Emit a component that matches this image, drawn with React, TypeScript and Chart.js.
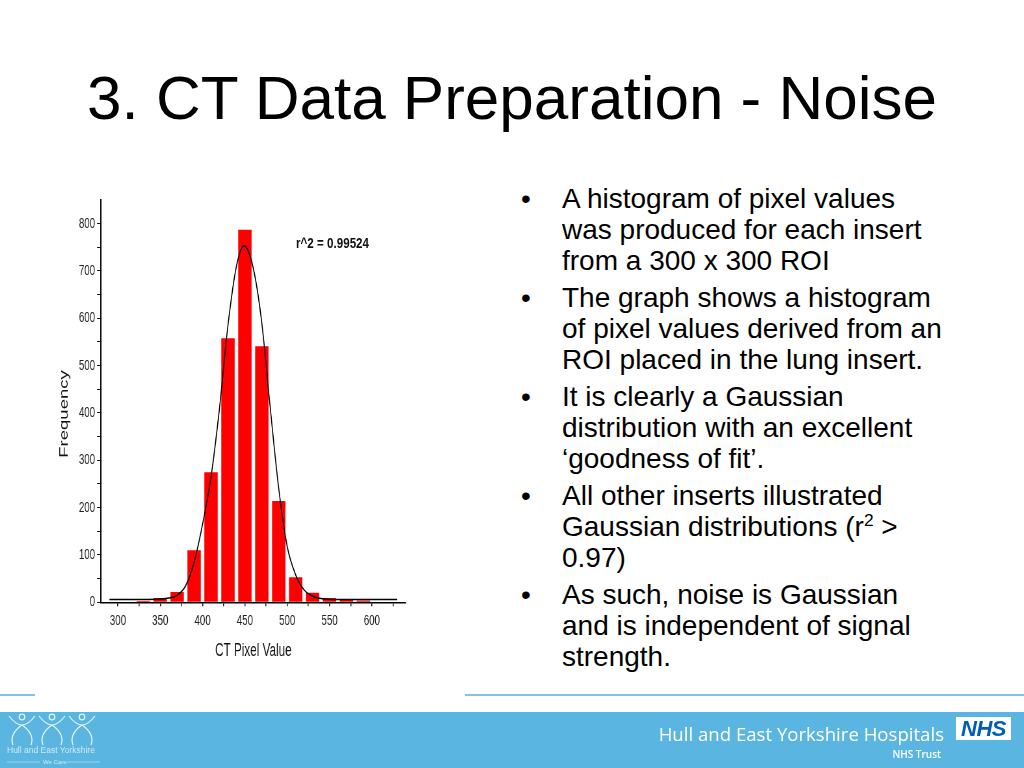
import React, { useEffect, useRef } from 'react';
import { Chart, registerables } from 'chart.js';

Chart.register(...registerables);

// Histogram bins (centre of each 20-wide bin) and their counts
const binCenters = [330, 350, 370, 390, 410, 430, 450, 470, 490, 510, 530, 550, 570, 590];
const binCounts = [3, 9, 22, 110, 275, 558, 787, 541, 214, 53, 20, 9, 6, 4];

// Fitted Gaussian curve
const fitX = [290, 330, 350, 360, 370, 380, 390, 400, 410, 420, 430, 440, 449, 460, 470, 480, 490, 500, 510, 520, 530, 540, 560, 600, 630];
const fitY = [6, 6, 7, 9, 15, 35, 85, 165, 265, 410, 585, 710, 753, 705, 590, 410, 240, 118, 58, 26, 13, 8, 6, 6, 6];

// Tick labels
const xTickLabels = [300, 350, 400, 450, 500, 550, 600];
const yTickLabels = [0, 100, 200, 300, 400, 500, 600, 700, 800];

const FONT = "'Liberation Sans', Arial, Helvetica, sans-serif";
const SQUEEZE = 0.65;

function ChartBox() {
  const canvasRef = useRef<HTMLCanvasElement>(null);
  useEffect(() => {
    const canvas = canvasRef.current;
    if (!canvas) return;
    const chart = new Chart(canvas, {
      type: 'bar',
      data: {
        datasets: [
          {
            type: 'line',
            label: 'Gaussian fit',
            data: fitX.map((x, i) => ({ x, y: fitY[i] })),
            borderColor: '#000',
            borderWidth: 1.6,
            pointRadius: 0,
            cubicInterpolationMode: 'monotone',
            fill: false,
            order: 0,
          } as any,
          {
            type: 'bar',
            label: 'Frequency',
            data: binCenters.map((x, i) => ({ x, y: binCounts[i] })),
            backgroundColor: '#ff0000',
            borderWidth: 0,
            barPercentage: 0.79,
            categoryPercentage: 1,
            order: 1,
          } as any,
        ],
      },
      options: {
        responsive: false,
        animation: false,
        layout: { padding: { left: 0, top: 35, right: 99, bottom: 32.7 } },
        plugins: { legend: { display: false }, tooltip: { enabled: false } },
        scales: {
          x: {
            type: 'linear',
            min: 280,
            max: 640,
            offset: false,
            grid: {
              display: true,
              drawOnChartArea: false,
              drawTicks: true,
              tickLength: 4,
              color: '#111',
              lineWidth: 1.5,
              offset: false,
            },
            border: { display: true, color: '#000', width: 1.6 },
            ticks: {
              stepSize: 25,
              includeBounds: false,
              autoSkip: false,
              maxRotation: 0,
              minRotation: 0,
              padding: 6,
              color: '#222',
              font: { family: FONT, size: 15 },
              callback: (v: any) => (xTickLabels.includes(Number(v)) ? String(v) : ''),
            },
            afterBuildTicks: (s: any) => {
              s.ticks = s.ticks.filter((t: any) => t.value >= 300 && t.value <= 625 && t.value % 25 === 0);
            },
            afterFit: (s: any) => {
              s.height = 60;
            },
            title: {
              display: true,
              text: 'CT Pixel Value',
              color: '#111',
              font: { family: FONT, size: 18 },
              padding: { top: 0, bottom: 0 },
            },
          },
          y: {
            type: 'linear',
            min: 0,
            max: 850,
            grid: {
              display: true,
              drawOnChartArea: false,
              drawTicks: true,
              tickLength: 6,
              color: '#111',
              lineWidth: 1,
            },
            border: { display: true, color: '#000', width: 2 },
            ticks: {
              stepSize: 50,
              includeBounds: false,
              autoSkip: false,
              padding: 3,
              color: '#222',
              font: { family: FONT, size: 15 },
              callback: (v: any) => (yTickLabels.includes(Number(v)) ? String(v) : ''),
            },
            afterBuildTicks: (s: any) => {
              s.ticks = s.ticks.filter((t: any) => t.value <= 800 && t.value % 50 === 0);
            },
            afterFit: (s: any) => {
              s.width = 109.2;
            },
            title: {
              display: true,
              text: 'Frequency     ',
              color: '#111',
              font: { family: FONT, size: 18.5 },
              padding: { top: 41.5, bottom: 0 },
            },
          },
        },
      } as any,
    });
    return () => chart.destroy();
  }, []);

  return (
    <div
      style={{
        position: 'absolute',
        left: 30,
        top: 165,
        width: 677,
        height: 530,
        transform: `scaleX(${SQUEEZE})`,
        transformOrigin: '0 0',
      }}
    >
      <canvas ref={canvasRef} width={677} height={530} style={{ display: 'block' }} />
    </div>
  );
}

function Figure({ cx }: { cx: number }) {
  return (
    <g fill="none" stroke="#e2f3fb" strokeWidth={1.2}>
      <circle cx={cx} cy={717} r={2.8} />
      <path d={`M ${cx - 13} 716 Q ${cx - 6} 725 ${cx} 725 Q ${cx + 6} 725 ${cx + 13} 716`} />
      <path d={`M ${cx} 725 Q ${cx - 13} 734 ${cx - 9} 745`} />
      <path d={`M ${cx} 725 Q ${cx + 13} 734 ${cx + 9} 745`} />
    </g>
  );
}

const bulletStyle: React.CSSProperties = {
  position: 'relative',
  paddingLeft: 41,
  marginBottom: 6,
  whiteSpace: 'nowrap',
};

function Bullet({ children }: { children: React.ReactNode }) {
  return (
    <div style={bulletStyle}>
      <span style={{ position: 'absolute', left: 0, top: 0 }}>•</span>
      {children}
    </div>
  );
}

export default function App() {
  return (
    <div
      style={{
        position: 'fixed',
        left: 0,
        top: 0,
        width: 1024,
        height: 768,
        background: '#fff',
        overflow: 'hidden',
        fontFamily: FONT,
        color: '#000',
      }}
    >
      {/* Title */}
      <div
        style={{
          position: 'absolute',
          left: 0,
          top: 67,
          width: 1024,
          textAlign: 'center',
          fontSize: 62,
          lineHeight: '62px',
          whiteSpace: 'nowrap',
        }}
      >
        3. CT Data Preparation - Noise
      </div>

      {/* decorative thin line */}
      <div style={{ position: 'absolute', left: 0, top: 694, width: 35, height: 2, background: '#84c4de' }} />
      <div style={{ position: 'absolute', left: 465, top: 694, width: 559, height: 2, background: '#84c4de' }} />

      {/* Chart */}
      <ChartBox />
      <div
        style={{
          position: 'absolute',
          left: 296,
          top: 236,
          fontSize: 14,
          lineHeight: '14px',
          fontWeight: 'bold',
          whiteSpace: 'nowrap',
          transform: 'scaleX(0.83)',
          transformOrigin: '0 0',
          color: '#111',
        }}
      >
        r^2 = 0.99524
      </div>

      {/* Bullets */}
      <div
        style={{
          position: 'absolute',
          left: 521,
          top: 183,
          fontSize: 28,
          lineHeight: '31px',
        }}
      >
        <Bullet>
          A histogram of pixel values
          <br />
          was produced for each insert
          <br />
          from a 300 x 300 ROI
        </Bullet>
        <Bullet>
          The graph shows a histogram
          <br />
          of pixel values derived from an
          <br />
          ROI placed in the lung insert.
        </Bullet>
        <Bullet>
          It is clearly a Gaussian
          <br />
          distribution with an excellent
          <br />
          ‘goodness of fit’.
        </Bullet>
        <Bullet>
          All other inserts illustrated
          <br />
          Gaussian distributions (r
          <sup style={{ fontSize: '0.62em', lineHeight: 0, verticalAlign: '0.6em' }}>2</sup> &gt;
          <br />
          0.97)
        </Bullet>
        <Bullet>
          As such, noise is Gaussian
          <br />
          and is independent of signal
          <br />
          strength.
        </Bullet>
      </div>

      {/* Footer band */}
      <div style={{ position: 'absolute', left: 0, top: 712, width: 1024, height: 56, background: '#5ab6e0' }} />
      <svg style={{ position: 'absolute', left: 0, top: 0 }} width={1024} height={768}>
        <Figure cx={22} />
        <Figure cx={52} />
        <Figure cx={82} />
        <text x={7} y={753} fontSize={8.5} fill="#cfe9f7" fontFamily={FONT}>
          Hull and East Yorkshire
        </text>
        <line x1={7} y1={762} x2={40} y2={762} stroke="#cfe9f7" strokeWidth={0.6} />
        <text x={43} y={764} fontSize={6} fill="#cfe9f7" fontFamily={FONT}>
          We Care
        </text>
        <line x1={67} y1={762} x2={100} y2={762} stroke="#cfe9f7" strokeWidth={0.6} />
      </svg>
      <div
        style={{
          position: 'absolute',
          right: 80,
          top: 722,
          fontFamily: "'Open Sans', 'Noto Sans', sans-serif",
          fontSize: 18.6,
          lineHeight: '24px',
          color: '#fff',
          whiteSpace: 'nowrap',
        }}
      >
        Hull and East Yorkshire Hospitals
      </div>
      <div
        style={{
          position: 'absolute',
          right: 83,
          top: 748,
          fontFamily: "'Open Sans', 'Noto Sans', sans-serif",
          fontSize: 10,
          lineHeight: '12px',
          fontWeight: 600,
          color: '#fff',
          whiteSpace: 'nowrap',
        }}
      >
        NHS Trust
      </div>
      <div
        style={{
          position: 'absolute',
          left: 956,
          top: 717,
          width: 55,
          height: 23,
          background: '#fff',
          color: '#005eb8',
          fontFamily: FONT,
          fontWeight: 'bold',
          fontStyle: 'italic',
          fontSize: 22,
          lineHeight: '23px',
          textAlign: 'center',
          letterSpacing: -0.5,
        }}
      >
        NHS
      </div>
    </div>
  );
}
